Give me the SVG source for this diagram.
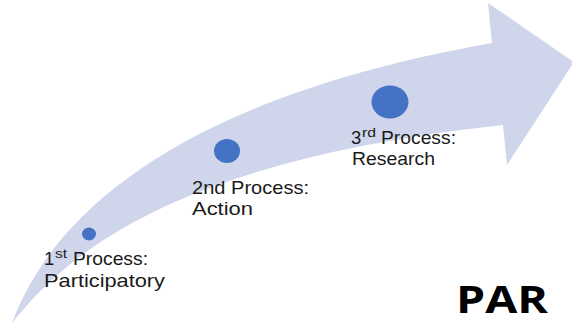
<svg xmlns="http://www.w3.org/2000/svg" width="572" height="324" viewBox="0 0 572 324">
  <style>
    .lbl { font-family: "Liberation Sans", Arial, sans-serif; font-size: 18.5px; fill: #1a1a1a; }
    .sup { font-family: "Liberation Sans", Arial, sans-serif; font-size: 12px; fill: #1a1a1a; }
    .dot { fill: #4472c4; }
    .title { font-family: "Open Sans", "Liberation Sans", sans-serif; font-size: 38px; font-weight: bold; fill: #000; }
  </style>
  <rect width="572" height="324" fill="#ffffff"/>
  <g id="arrow">
    <path d="M 12 323 C 70 250, 180 160, 503 125 L 507 165 L 574 62 L 488 3 L 492 43 C 170 100, 50 220, 12 323 Z" fill="#cfd5ea"/>
  </g>
  <g id="step1">
    <ellipse class="dot" cx="89" cy="234" rx="7" ry="6.5"/>
    <text class="lbl" x="44" y="265">1</text>
    <text class="sup" x="55" y="258" textLength="12" lengthAdjust="spacingAndGlyphs">st</text>
    <text class="lbl" x="73" y="265" textLength="75" lengthAdjust="spacingAndGlyphs">Process:</text>
    <text class="lbl" x="44" y="287" textLength="121" lengthAdjust="spacingAndGlyphs">Participatory</text>
  </g>
  <g id="step2">
    <ellipse class="dot" cx="227" cy="151" rx="13" ry="12"/>
    <text class="lbl" x="192" y="194" textLength="117" lengthAdjust="spacingAndGlyphs">2nd Process:</text>
    <text class="lbl" x="192" y="215" textLength="61" lengthAdjust="spacingAndGlyphs">Action</text>
  </g>
  <g id="step3">
    <ellipse class="dot" cx="390" cy="102" rx="18.5" ry="16.5"/>
    <text class="lbl" x="351" y="144">3</text>
    <text class="sup" x="362" y="137" textLength="14" lengthAdjust="spacingAndGlyphs">rd</text>
    <text class="lbl" x="381" y="144" textLength="75" lengthAdjust="spacingAndGlyphs">Process:</text>
    <text class="lbl" x="352" y="165" textLength="83" lengthAdjust="spacingAndGlyphs">Research</text>
  </g>
  <g id="title">
    <text class="title" x="456" y="313" textLength="92" lengthAdjust="spacingAndGlyphs">PAR</text>
  </g>
  <g id="connectors"/>
</svg>
